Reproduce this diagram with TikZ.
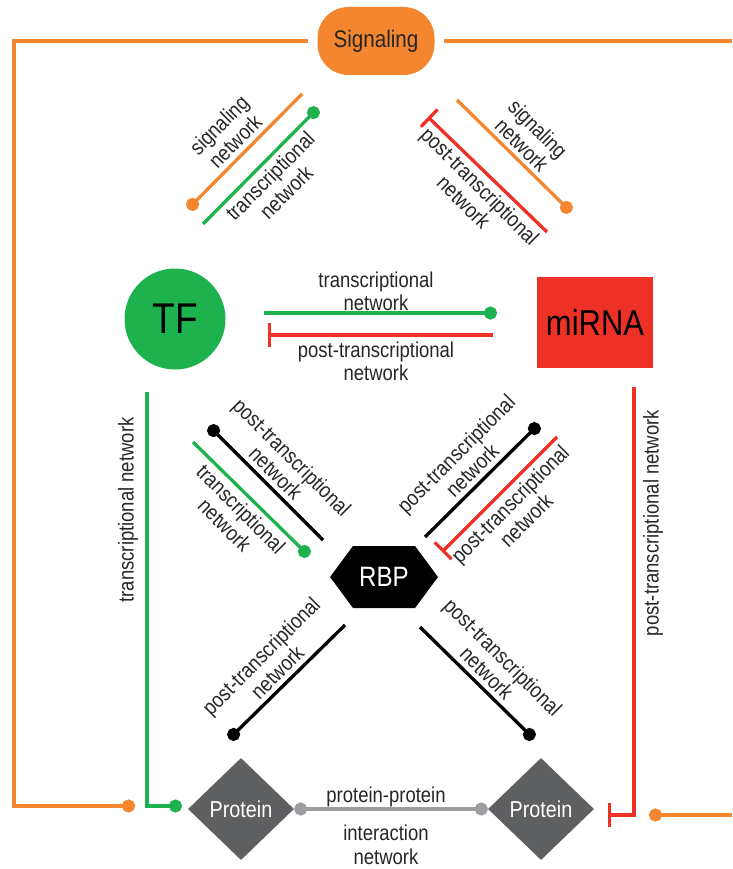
\documentclass[tikz,border=0pt]{standalone}
\usepackage{fontspec}
\setmainfont[FakeStretch=0.86]{Liberation Sans}
\usetikzlibrary{arrows.meta,shapes.geometric}

\definecolor{sigorange}{HTML}{F3862E}
\definecolor{tfgreen}{HTML}{1EB24F}
\definecolor{mirred}{HTML}{EE3127}
\definecolor{protgrey}{HTML}{5E5F61}
\definecolor{linkgrey}{HTML}{9C9EA1}
\definecolor{labeltext}{HTML}{262626}

\tikzset{
  wire/.style={line width=3.3pt},
  dotend/.style={-{Circle[length=13pt]}},
  dotboth/.style={{Circle[length=13pt]}-{Circle[length=13pt]}},
  barend/.style={-{Bar[width=24pt]}},
  lbl/.style={font=\fontsize{21.5}{23}\selectfont, text=labeltext, align=center, inner sep=0pt},
  protnode/.style={diamond, fill=protgrey, text=white, minimum width=106pt, minimum height=102pt,
      inner sep=0pt, font=\fontsize{23}{23}\selectfont},
}

\begin{document}
\begin{tikzpicture}[x=1pt,y=-1pt]
\useasboundingbox (0,0) rectangle (732,869);

% ---- main nodes ----
\node[fill=sigorange, rounded corners=31pt, minimum width=117pt, minimum height=68pt,
      inner sep=0pt, text=labeltext, font=\fontsize{24}{24}\selectfont] (sig) at (376,41) {Signaling};
\node[circle, fill=tfgreen, minimum size=101pt, inner sep=0pt, text=black,
      font=\fontsize{43}{43}\selectfont] (tf) at (175,319) {TF};
\node[fill=mirred, minimum width=116pt, minimum height=91pt, inner sep=0pt, text=black,
      font=\fontsize{36}{36}\selectfont] (mir) at (595,322) {miRNA};
\fill[black] (330,577) -- (353,546) -- (415,546) -- (438,577) -- (415,608) -- (353,608) -- cycle;
\node[text=white, inner sep=0pt, font=\fontsize{28}{28}\selectfont] (rbp) at (384,577) {RBP};
\node[protnode] (p1) at (241,809) {Protein};
\node[protnode] (p2) at (541,809) {Protein};

% ---- connector end points ----
\coordinate (oLcorner) at (14,806);
\coordinate (oLdot) at (135,806);
\coordinate (oRedge) at (732,815);
\coordinate (oRdot) at (649,815);
\coordinate (oTopR) at (732,41);
\coordinate (gTop) at (147,392);
\coordinate (gDot) at (182,806);
\coordinate (rTop) at (634,387);
\coordinate (rBar) at (608,815);

\coordinate (tlOa) at (302,94);   \coordinate (tlOb) at (188,209);
\coordinate (tlGa) at (203,224);  \coordinate (tlGb) at (318,108);
\coordinate (trRa) at (547,232);  \coordinate (trRb) at (428,117);
\coordinate (trOa) at (457,100);  \coordinate (trOb) at (571,212);

\coordinate (hGa) at (264,313);   \coordinate (hGb) at (497,313);
\coordinate (hRa) at (493,335);   \coordinate (hRb) at (268,335);

\coordinate (xTLKa) at (323,540); \coordinate (xTLKb) at (209,426);
\coordinate (xTLGa) at (193,442); \coordinate (xTLGb) at (309,556);
\coordinate (xTRKa) at (425,537); \coordinate (xTRKb) at (539,424);
\coordinate (xTRRa) at (557,437); \coordinate (xTRRb) at (442,552);
\coordinate (xBLa) at (345,625);  \coordinate (xBLb) at (229,739);
\coordinate (xBRa) at (420,627);  \coordinate (xBRb) at (534,739);

% ---- signaling loop ----
\draw[wire, sigorange, shorten <=9pt, dotend] (sig.west) -| (oLcorner) -- (oLdot);
\draw[wire, sigorange, shorten <=9pt] (sig.east) -- (oTopR);
\draw[wire, sigorange, dotend] (oRedge) -- (oRdot);

% ---- side links ----
\draw[wire, tfgreen, dotend] (gTop) |- (gDot);
\draw[wire, mirred, barend] (rTop) |- (rBar);
\node[lbl, rotate=90] (lblG) at (128,510) {transcriptional network};
\node[lbl, rotate=90] (lblR) at (653,523) {post-transcriptional network};

% ---- top diagonals ----
\draw[wire, sigorange, dotend] (tlOa) -- (tlOb);
\draw[wire, tfgreen, dotend] (tlGa) -- (tlGb);
\node[lbl, rotate=45] (lblTL1) at (227,133) {signaling\\network};
\node[lbl, rotate=45] (lblTL2) at (278,184) {transcriptional\\network};

\draw[wire, mirred, barend] (trRa) -- (trRb);
\draw[wire, sigorange, dotend] (trOa) -- (trOb);
\node[lbl, rotate=-45] (lblTR1) at (530,137) {signaling\\network};
\node[lbl, rotate=-45] (lblTR2) at (472,194) {post-transcriptional\\network};

% ---- TF / miRNA ----
\draw[wire, tfgreen, dotend] (hGa) -- (hGb);
\draw[wire, mirred, barend] (hRa) -- (hRb);
\node[lbl] (lblH1) at (376,291) {transcriptional\\network};
\node[lbl] (lblH2) at (376,361) {post-transcriptional\\network};

% ---- RBP cross ----
\draw[wire, black, dotend] (xTLKa) -- (xTLKb);
\draw[wire, tfgreen, dotend] (xTLGa) -- (xTLGb);
\node[lbl, rotate=-45] (lblX1) at (284,465) {post-transcriptional\\network};
\node[lbl, rotate=-45] (lblX2) at (233,517) {transcriptional\\network};

\draw[wire, black, dotend] (xTRKa) -- (xTRKb);
\draw[wire, mirred, barend] (xTRRa) -- (xTRRb);
\node[lbl, rotate=45] (lblX3) at (464,462) {post-transcriptional\\network};
\node[lbl, rotate=45] (lblX4) at (518,512) {post-transcriptional\\network};

\draw[wire, black, dotend] (xBLa) -- (xBLb);
\draw[wire, black, dotend] (xBRa) -- (xBRb);
\node[lbl, rotate=45] (lblX5) at (269,664) {post-transcriptional\\network};
\node[lbl, rotate=-45] (lblX6) at (495,665) {post-transcriptional\\network};

% ---- protein-protein interaction ----
\draw[wire, linkgrey, dotboth] (p1.east) -- (p2.west);
\node[lbl] (lblP1) at (386,797) {protein-protein};
\node[lbl, font=\fontsize{21.5}{24}\selectfont] (lblP2) at (386,845) {interaction\\network};
\end{tikzpicture}
\end{document}
